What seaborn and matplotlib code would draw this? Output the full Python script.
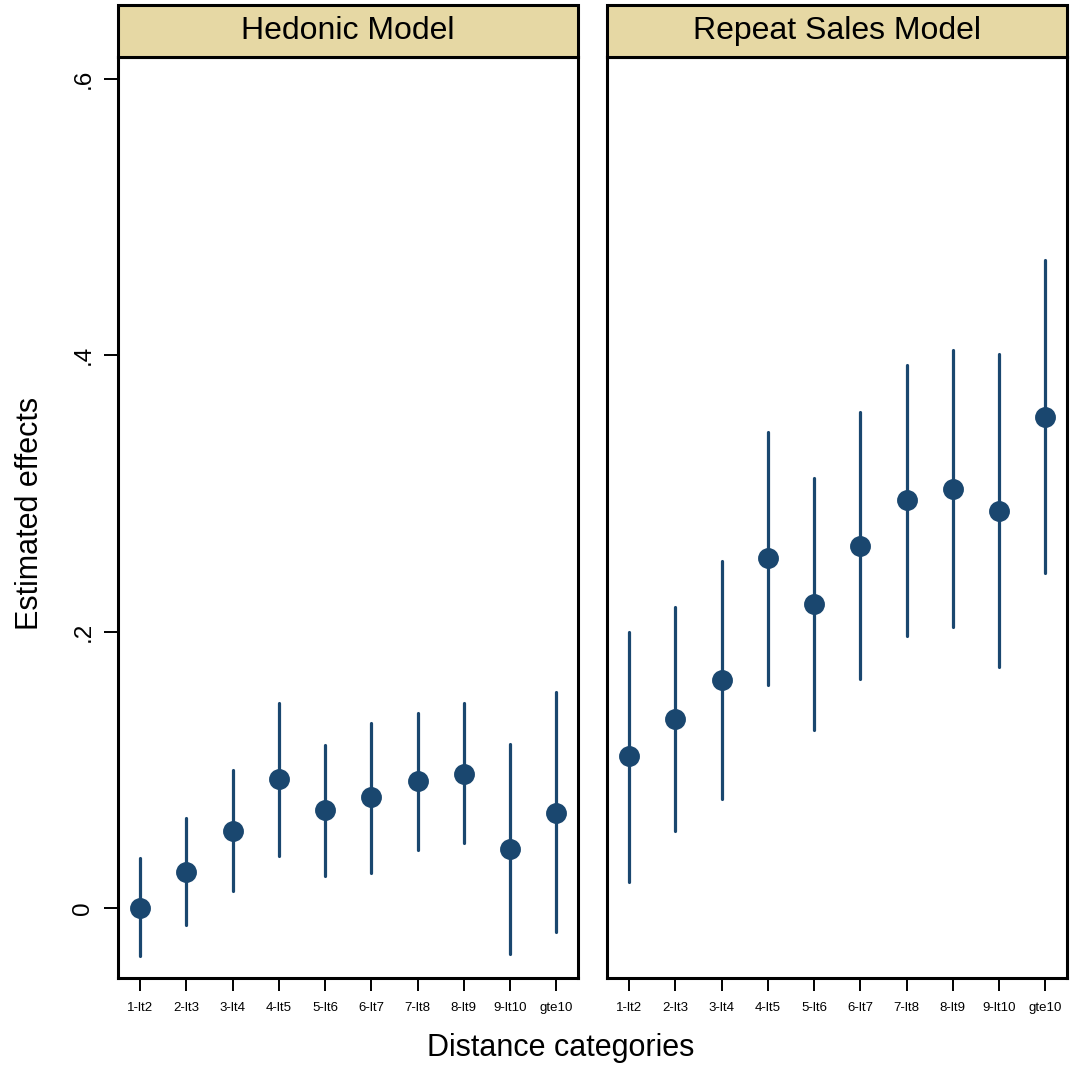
import numpy as np
import pandas as pd
import matplotlib
matplotlib.use("Agg")
import matplotlib.pyplot as plt
from matplotlib.patches import Rectangle
import seaborn as sns

# Distance bands
categories = ["1-lt2", "2-lt3", "3-lt4", "4-lt5", "5-lt6",
              "6-lt7", "7-lt8", "8-lt9", "9-lt10", "gte10"]

# Hedonic model: point estimates and 95% bounds
hedonic_est = [0.000, 0.026, 0.056, 0.093, 0.071, 0.080, 0.092, 0.097, 0.043, 0.069]
hedonic_lo = [-0.035, -0.012, 0.012, 0.038, 0.023, 0.025, 0.042, 0.047, -0.033, -0.017]
hedonic_hi = [0.036, 0.065, 0.100, 0.148, 0.118, 0.134, 0.141, 0.148, 0.119, 0.156]

# Repeat sales model: point estimates and 95% bounds
repeat_est = [0.110, 0.137, 0.165, 0.253, 0.220, 0.262, 0.295, 0.303, 0.287, 0.355]
repeat_lo = [0.019, 0.056, 0.079, 0.161, 0.129, 0.166, 0.197, 0.203, 0.174, 0.242]
repeat_hi = [0.200, 0.218, 0.251, 0.344, 0.311, 0.359, 0.393, 0.404, 0.401, 0.469]

panel_titles = ["Hedonic Model", "Repeat Sales Model"]
y_ticks = [0.0, 0.2, 0.4, 0.6]
y_ticklabels = ["0", ".2", ".4", ".6"]


def long_frame(est, lo, hi):
    # three rows per band: median gives the estimate, full range gives the bounds
    rows = []
    for c, e, l, h in zip(categories, est, lo, hi):
        for v in (l, e, h):
            rows.append({"band": c, "value": v})
    return pd.DataFrame(rows)


frames = [long_frame(hedonic_est, hedonic_lo, hedonic_hi),
          long_frame(repeat_est, repeat_lo, repeat_hi)]

sns.set_theme(style="white")
plt.rcParams["font.family"] = ["Liberation Sans", "DejaVu Sans"]
plt.rcParams["text.color"] = "black"
plt.rcParams["xtick.color"] = "black"
plt.rcParams["ytick.color"] = "black"

navy = "#1A476F"
strip_color = "#E6D8A4"

fig = plt.figure(figsize=(10.73, 10.72), dpi=100)
ax_w, ax_h = 0.4290, 0.8590
bottom = 0.0877
lefts = [0.1100, 0.5657]

for i, (df, title) in enumerate(zip(frames, panel_titles)):
    ax = fig.add_axes([lefts[i], bottom, ax_w, ax_h])
    sns.pointplot(data=df, x="band", y="value", order=categories,
                  estimator=np.median, errorbar=("pi", 100),
                  linestyle="none", color=navy, markers="o",
                  markersize=13, err_kws={"linewidth": 2.3}, ax=ax)
    ax.set_xlim(-0.476, 9.476)
    ax.set_ylim(-0.0506, 0.6155)
    ax.set_xlabel("")
    ax.set_ylabel("")
    ax.set_facecolor("white")
    for sp in ax.spines.values():
        sp.set_visible(True)
        sp.set_color("black")
        sp.set_linewidth(2.2)
    ax.tick_params(axis="x", which="both", bottom=True, direction="out",
                   length=9, width=1.4, color="black", labelsize=9.5,
                   pad=8, labelcolor="black")
    if i == 0:
        ax.set_yticks(y_ticks)
        ax.set_yticklabels(y_ticklabels, rotation=90, va="center")
        ax.tick_params(axis="y", left=True, direction="out", length=10,
                       width=1.4, color="black", labelsize=17.5, pad=7,
                       labelcolor="black")
    else:
        ax.set_yticks([])
    ax.grid(False)
    # title strip above the panel
    strip_h = 0.0565
    ax.add_patch(Rectangle((0, 1), 1, strip_h, transform=ax.transAxes,
                           facecolor=strip_color, edgecolor="black",
                           linewidth=2.2, clip_on=False, zorder=5))
    ax.text(0.5, 1 + strip_h / 2, title, transform=ax.transAxes,
            ha="center", va="center", fontsize=23, color="black", zorder=6)

fig.text(0.028, 0.521, "Estimated effects", rotation=90, ha="center",
         va="center", fontsize=22, color="black")
fig.text(0.523, 0.022, "Distance categories", ha="center", va="center",
         fontsize=22, color="black")

fig.savefig("out.png", dpi=100, facecolor="white")
